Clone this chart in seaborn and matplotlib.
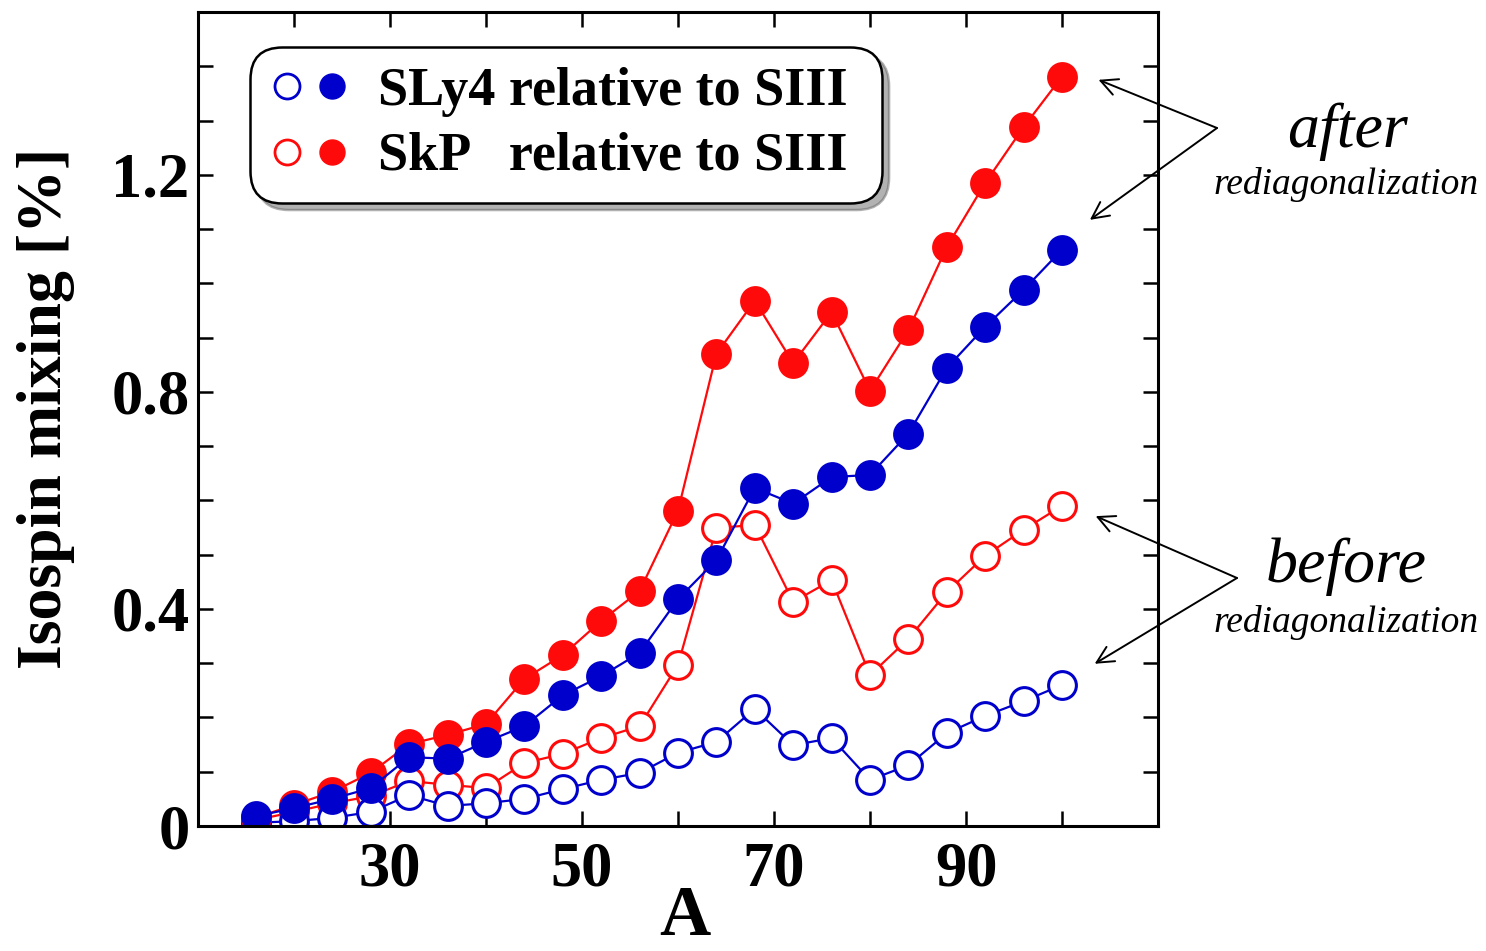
import numpy as np
import pandas as pd
import matplotlib
matplotlib.use("Agg")
import matplotlib.pyplot as plt
import seaborn as sns
from matplotlib.legend_handler import HandlerTuple
from matplotlib.lines import Line2D

# ---------------- data ----------------
A = [16, 20, 24, 28, 32, 36, 40, 44, 48, 52, 56, 60, 64, 68, 72, 76, 80, 84, 88, 92, 96, 100]
sly4_after = [0.018, 0.033, 0.050, 0.070, 0.127, 0.124, 0.155, 0.184, 0.241, 0.276, 0.319, 0.418,
              0.490, 0.623, 0.594, 0.643, 0.647, 0.723, 0.844, 0.920, 0.988, 1.062]
skp_after = [0.015, 0.039, 0.063, 0.098, 0.151, 0.168, 0.188, 0.271, 0.315, 0.378, 0.433, 0.581,
             0.870, 0.968, 0.853, 0.947, 0.802, 0.914, 1.067, 1.185, 1.288, 1.381]
sly4_before = [0.006, 0.009, 0.015, 0.026, 0.057, 0.037, 0.042, 0.050, 0.068, 0.085, 0.098, 0.135,
               0.155, 0.216, 0.149, 0.162, 0.085, 0.112, 0.171, 0.203, 0.230, 0.260]
skp_before = [0.011, 0.026, 0.042, 0.055, 0.083, 0.076, 0.070, 0.116, 0.133, 0.162, 0.184, 0.297,
              0.549, 0.555, 0.413, 0.453, 0.278, 0.345, 0.431, 0.498, 0.546, 0.590]
legend_labels = ["SLy4 relative to SIII", "SkP   relative to SIII"]
xtick_labels = ["30", "50", "70", "90"]
ytick_labels = ["0", "0.4", "0.8", "1.2"]

BLUE = "#0000cc"
RED = "#ff0a0a"

sns.set_style("ticks")
plt.rcParams["font.family"] = ["Liberation Serif", "DejaVu Serif"]
plt.rcParams["font.weight"] = "bold"
plt.rcParams["text.color"] = "black"
plt.rcParams["axes.labelcolor"] = "black"
plt.rcParams["xtick.color"] = "black"
plt.rcParams["ytick.color"] = "black"

fig = plt.figure(figsize=(14.86, 9.51), dpi=100)
ax = fig.add_axes([0.1332, 0.1314, 0.6461, 0.8560])

ms = 20
series = [
    (skp_before, RED, "white"),
    (sly4_before, BLUE, "white"),
    (skp_after, RED, RED),
    (sly4_after, BLUE, BLUE),
]
for vals, col, fc in series:
    df = pd.DataFrame({"A": A, "y": vals})
    sns.lineplot(data=df, x="A", y="y", ax=ax, color=col, linewidth=1.6,
                 marker="o", markersize=ms, markerfacecolor=fc,
                 markeredgecolor=col, markeredgewidth=2.2,
                 estimator=None, errorbar=None, legend=False)

ax.set_xlim(10, 110)
ax.set_ylim(0, 1.5)
ax.set_xticks([30, 50, 70, 90])
ax.set_xticklabels(xtick_labels)
ax.set_xticks(np.arange(20, 101, 10), minor=True)
ax.set_yticks([0, 0.4, 0.8, 1.2])
ax.set_yticklabels(ytick_labels)
ax.set_yticks(np.arange(0, 1.45, 0.1), minor=True)

for side in ["left", "right", "top", "bottom"]:
    ax.spines[side].set_visible(True)
    ax.spines[side].set_linewidth(2.2)
    ax.spines[side].set_color("black")

ax.tick_params(which="both", direction="in", length=11, width=1.8,
               top=True, right=True, labelsize=45, colors="black")
ax.tick_params(axis="x", which="both", pad=11)
ax.tick_params(axis="y", which="both", pad=6)
for lab in ax.get_xticklabels() + ax.get_yticklabels():
    lab.set_fontweight("bold")

ax.set_xlabel("A", fontsize=51, fontweight="bold")
ax.xaxis.label.set_verticalalignment("baseline")
ax.set_ylabel("Isospin mixing [%]", fontsize=46, fontweight="bold")
ax.xaxis.set_label_coords(0.507, -0.134)
ax.yaxis.set_label_coords(-0.128, 0.513)

# legend
def pair(col):
    o = Line2D([], [], linestyle="none", marker="o", markersize=18,
               markerfacecolor="white", markeredgecolor=col, markeredgewidth=2)
    f = Line2D([], [], linestyle="none", marker="o", markersize=18,
               markerfacecolor=col, markeredgecolor=col)
    return (o, f)

leg = ax.legend([pair(BLUE), pair(RED)], [lab + " " for lab in legend_labels],
                handler_map={tuple: HandlerTuple(ndivide=None, pad=0.2)},
                loc="upper left", bbox_to_anchor=(0.065, 0.944),
                prop={"family": "Liberation Serif", "weight": "bold", "size": 39},
                frameon=True, fancybox=True, shadow={"color": "0.4", "ox": 5, "oy": -5},
                framealpha=1, edgecolor="black", handlelength=1.45,
                handletextpad=0.55, borderpad=0.18, labelspacing=0.28,
                borderaxespad=0)
leg.get_frame().set_linewidth(1.8)
leg.get_frame().set_boxstyle("round,pad=0.2,rounding_size=0.6")

# annotations
arrowprops = dict(arrowstyle="->", color="black", lw=1.4, mutation_scale=30,
                  shrinkA=0, shrinkB=0)
for tip in [(103.8, 1.375), (102.9, 1.117)]:
    ax.annotate("", xy=tip, xycoords="data", xytext=(1217, 951 - 128),
                textcoords="figure pixels", arrowprops=arrowprops, annotation_clip=False)
for tip in [(103.5, 0.571), (103.4, 0.299)]:
    ax.annotate("", xy=tip, xycoords="data", xytext=(1237, 951 - 578),
                textcoords="figure pixels", arrowprops=arrowprops, annotation_clip=False)

fig.text(0.907, 0.845, "after", fontsize=46, style="italic", fontweight="normal",
         ha="center", va="baseline")
fig.text(0.906, 0.796, "rediagonalization", fontsize=27, style="italic", fontweight="normal",
         ha="center", va="baseline")
fig.text(0.906, 0.388, "before", fontsize=46, style="italic", fontweight="normal",
         ha="center", va="baseline")
fig.text(0.906, 0.335, "rediagonalization", fontsize=27, style="italic", fontweight="normal",
         ha="center", va="baseline")

fig.savefig("out.png", dpi=100)
